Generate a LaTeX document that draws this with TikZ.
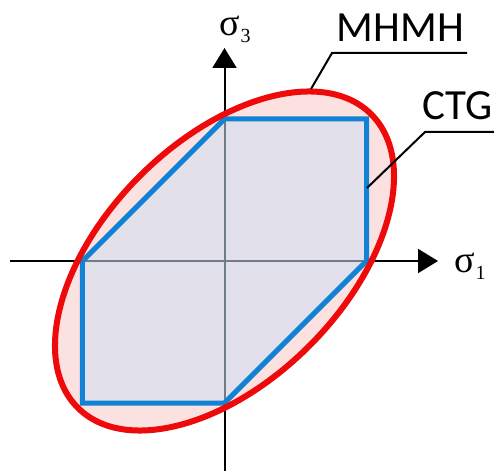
\documentclass[tikz,border=0pt]{standalone}
\usepackage{fontspec}
\setmainfont{Liberation Serif}
\newfontfamily\labelfont{Carlito}
\usetikzlibrary{arrows.meta}
\definecolor{mhred}{RGB}{238,10,10}
\definecolor{mhpink}{RGB}{252,225,225}
\definecolor{ctgblue}{RGB}{18,130,212}
\definecolor{ctgfill}{RGB}{205,226,245}
\tikzset{
  axis/.style={line width=2pt,-{Triangle[length=20pt,width=24pt]}},
  sig/.style={inner sep=0pt,font=\fontsize{38}{38}\selectfont},
  lab/.style={inner sep=0pt,anchor=base west,font=\labelfont\fontsize{43}{43}\selectfont},
  leader/.style={line width=2pt},
}
\newcommand{\subsc}[1]{\kern1pt\raisebox{-7pt}{\fontsize{20}{20}\selectfont #1}}
\begin{document}
\begin{tikzpicture}[x=1pt,y=1pt]
\useasboundingbox (-224.5,-209) rectangle (269.5,261);
% ellipse fill
\fill[mhpink,rotate=45] (0,0) ellipse [x radius=207.5pt,y radius=120pt];
% axes
\coordinate (xs) at (-214.5,0);
\coordinate (xe) at (213.5,0);
\coordinate (ys) at (0,-212);
\coordinate (ye) at (0,213);
\draw[axis] (xs) -- (xe);
\draw[axis] (ys) -- (ye);
% hexagon
\coordinate (h1) at (-142,0);
\coordinate (h2) at (0,142);
\coordinate (h3) at (142,142);
\coordinate (h4) at (142,0);
\coordinate (h5) at (0,-142);
\coordinate (h6) at (-142,-142);
\fill[ctgfill,fill opacity=0.55] (h1) -- (h2) -- (h3) -- (h4) -- (h5) -- (h6) -- cycle;
\draw[ctgblue,line width=5pt] (h1) -- (h2) -- (h3) -- (h4) -- (h5) -- (h6) -- cycle;
% ellipse stroke
\draw[mhred,line width=6pt,rotate=45] (0,0) ellipse [x radius=207.5pt,y radius=120pt];
% axis labels
\node[sig] (s3) at (10.5,232) {σ\subsc{3}};
\node[sig] (s1) at (245.5,-5) {σ\subsc{1}};
% labels
\node[lab] (mh) at (112,219) {MHMH};
\node[lab] (ctg) at (198,141) {CTG};
\coordinate (m1) at (86.5,172);
\coordinate (m2) at (107.5,208);
\coordinate (m3) at (242.5,208);
\coordinate (c1) at (142.5,73);
\coordinate (c2) at (200.5,129);
\coordinate (c3) at (269.5,129);
\draw[leader] (m1) -- (m2) -- (m3);
\draw[leader] (c1) -- (c2) -- (c3);
\end{tikzpicture}
\end{document}
